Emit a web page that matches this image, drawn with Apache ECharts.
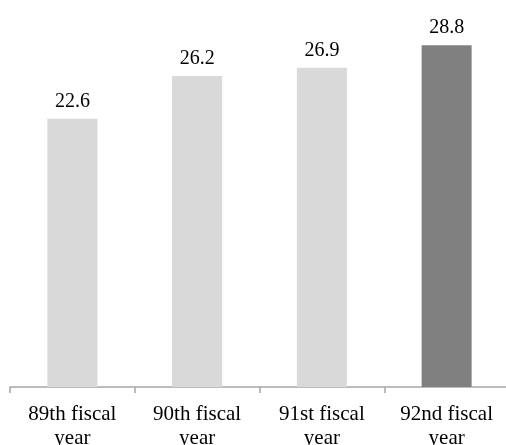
<!DOCTYPE html>
<html>
<head>
<meta charset="utf-8">
<script src="https://cdn.jsdelivr.net/npm/echarts@6/dist/echarts.min.js"></script>
<style>html,body{margin:0;padding:0;background:#fff;}#c{width:506px;height:445px;}</style>
</head>
<body>
<div id="c"></div>
<script>
const categories = ['89th fiscal\nyear', '90th fiscal\nyear', '91st fiscal\nyear', '92nd fiscal\nyear'];
const values = [22.6, 26.2, 26.9, 28.8];
const barColors = ['#d9d9d9', '#d9d9d9', '#d9d9d9', '#808080'];
const FONT = '"Liberation Serif", "Times New Roman", serif';

const chart = echarts.init(document.getElementById('c'));
chart.setOption({
  animation: false,
  grid: { left: 10, right: -3, top: 31, bottom: 58, containLabel: false, outerBoundsMode: 'none' },
  xAxis: {
    type: 'category',
    data: categories,
    axisLine: { lineStyle: { color: '#a6a6a6', width: 1.5 } },
    axisTick: { show: true, length: 6, lineStyle: { color: '#a6a6a6', width: 1.5 } },
    axisLabel: { color: '#000', fontFamily: FONT, fontSize: 21, lineHeight: 24, margin: 15, interval: 0 }
  },
  yAxis: {
    type: 'value', min: 0, max: 30,
    show: false,
    splitLine: { show: false }
  },
  series: [{
    type: 'bar',
    data: values.map((v, i) => ({ value: v, itemStyle: { color: barColors[i] } })),
    barWidth: 50,
    label: { show: true, position: 'top', distance: 7, color: '#000', fontFamily: FONT, fontSize: 20 }
  }]
});
</script>
</body>
</html>
